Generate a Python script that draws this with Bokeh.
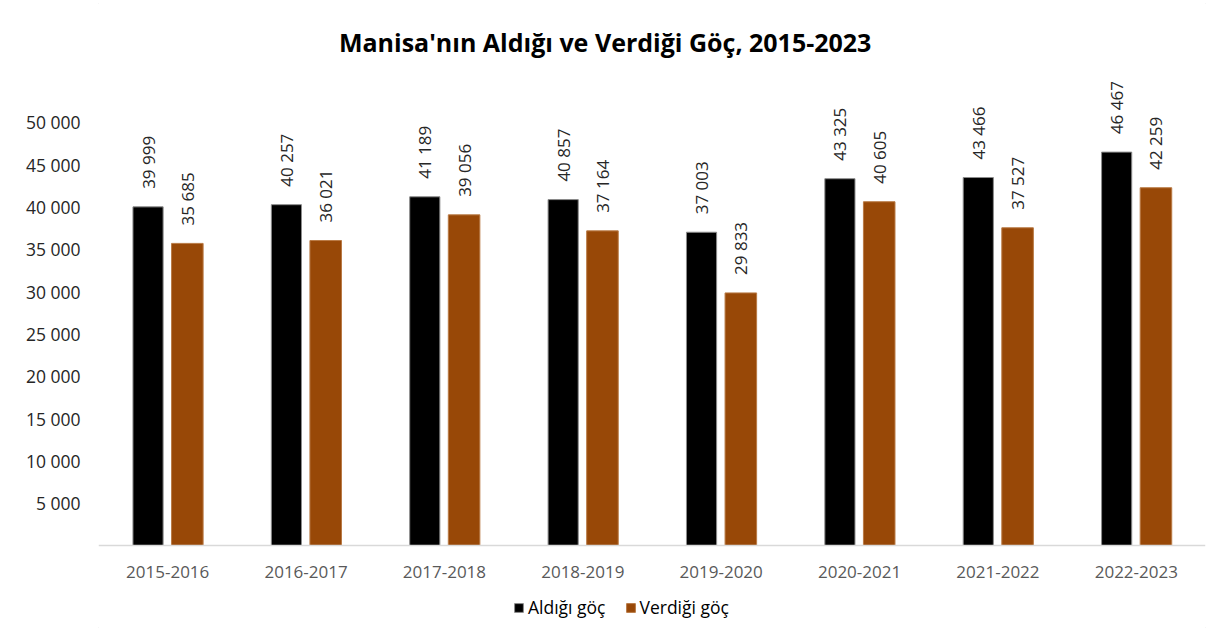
from bokeh.plotting import figure
from bokeh.models import ColumnDataSource, FactorRange, Range1d, FixedTicker, Legend, LegendItem, Span
from bokeh.transform import dodge
from bokeh.core.properties import value
from bokeh.embed import file_html
from bokeh.resources import INLINE
import math

# ---- data ----
periods = ["2015-2016", "2016-2017", "2017-2018", "2018-2019",
           "2019-2020", "2020-2021", "2021-2022", "2022-2023"]
aldigi = [39999, 40257, 41189, 40857, 37003, 43325, 43466, 46467]
verdigi = [35685, 36021, 39056, 37164, 29833, 40605, 37527, 42259]
y_ticks = [5000, 10000, 15000, 20000, 25000, 30000, 35000, 40000, 45000, 50000]
title_text = "Manisa'nın  Aldığı ve Verdiği Göç, 2015-2023"
legend_labels = ["Aldığı göç", "Verdiği göç"]

def fmt(v):
    return f"{v:,}".replace(",", " ")

src = ColumnDataSource(dict(
    period=periods,
    aldigi=aldigi,
    verdigi=verdigi,
    base=[0] * len(periods),
    aldigi_lbl=[fmt(v) for v in aldigi],
    verdigi_lbl=[fmt(v) for v in verdigi],
))

BLACK = "#000000"
ORANGE = "#984807"
FONT = "Open Sans"

W, H = 1218, 631
p = figure(width=W, height=H, output_backend="svg", toolbar_location=None,
           x_range=FactorRange(factors=periods, range_padding=0),
           y_range=Range1d(-10158, 64375), x_axis_location=None,
           min_border_left=98, min_border_right=13, min_border_top=0,
           min_border_bottom=0)
p.outline_line_color = None
p.xgrid.grid_line_color = None
p.ygrid.grid_line_color = None
p.background_fill_color = "white"
p.border_fill_color = "white"
p.styles = {"outline": "1px solid #d9d9d9", "outline-offset": "-4px"}

r1 = p.vbar(x=dodge("period", -0.142, range=p.x_range), top="aldigi", width=0.218,
            source=src, fill_color=BLACK, line_color="#8c8c8c", line_width=1)
r2 = p.vbar(x=dodge("period", 0.142, range=p.x_range), top="verdigi", width=0.228,
            source=src, fill_color=ORANGE, line_color="#b97a45", line_width=1)

# category axis baseline and labels
p.add_layout(Span(location=0, dimension="width", line_color="#d9d9d9", line_width=1.5))
p.text(x="period", y="base", text="period", source=src, text_align="center",
       text_baseline="middle", y_offset=26, text_font=value(FONT), text_font_size="17px",
       text_color="#595959")

# value labels
p.text(x=dodge("period", -0.142, range=p.x_range), y="aldigi", text="aldigi_lbl",
       source=src, angle=math.pi / 2, text_align="left", text_baseline="middle",
       y_offset=-18, text_font=value(FONT), text_font_size="17px", text_color="#262626")
p.text(x=dodge("period", 0.142, range=p.x_range), y="verdigi", text="verdigi_lbl",
       source=src, angle=math.pi / 2, text_align="left", text_baseline="middle",
       y_offset=-18, text_font=value(FONT), text_font_size="17px", text_color="#262626")

# title
p.text(x=[3.685], y=[59473], text=[title_text], text_align="center", text_baseline="middle",
       text_font=value(FONT), text_font_size="25px", text_font_style="bold", text_color="#000000")

# y axis
p.yaxis.ticker = FixedTicker(ticks=y_ticks)
p.yaxis.major_label_overrides = {t: fmt(t) for t in y_ticks}
p.yaxis.axis_line_color = None
p.yaxis.major_tick_line_color = None
p.yaxis.minor_tick_line_color = None
p.yaxis.major_label_standoff = 12
p.yaxis.major_label_text_font = FONT
p.yaxis.major_label_text_font_size = "17.5px"
p.yaxis.major_label_text_color = "#262626"

legend = Legend(items=[LegendItem(label=legend_labels[0], renderers=[r1]),
                       LegendItem(label=legend_labels[1], renderers=[r2])],
                orientation="horizontal", location=(415, 12),
                glyph_width=11, glyph_height=11, label_standoff=4, spacing=19,
                padding=0, margin=0, border_line_color=None, background_fill_alpha=0,
                label_text_font=FONT, label_text_font_size="17.5px", label_text_color="#000000")
p.add_layout(legend, "center")

open("out.html", "w").write(file_html(p, INLINE))
